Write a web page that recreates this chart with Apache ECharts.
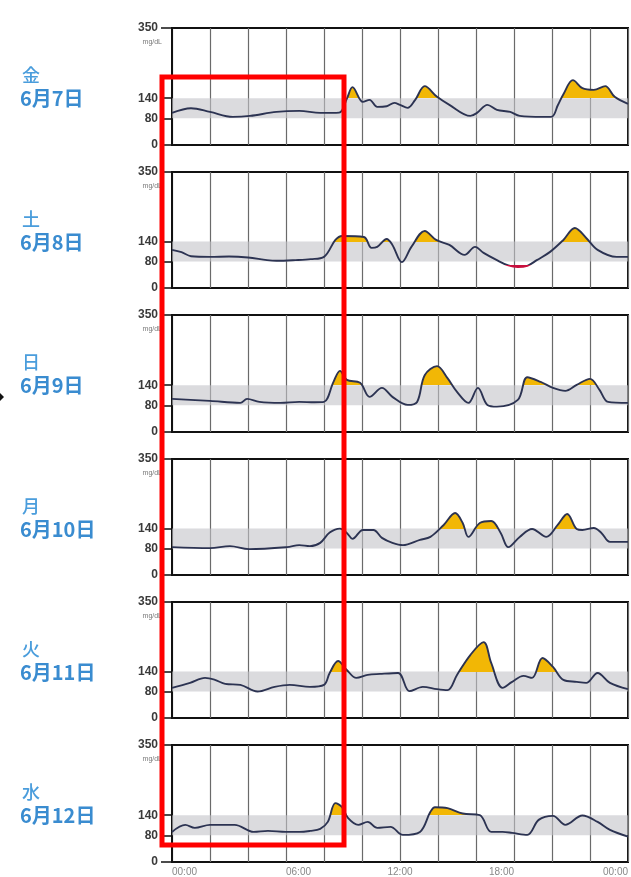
<!DOCTYPE html>
<html><head><meta charset="utf-8">
<script src="https://cdn.jsdelivr.net/npm/echarts@6/dist/echarts.min.js"></script>
<style>html,body{margin:0;padding:0;background:#fff}#c{width:631px;height:877px}</style>
</head><body><div id="c"></div>
<script>
// ---- data ----
const weekdays = ['金','土','日','月','火','水'];
const dates = ['6月7日','6月8日','6月9日','6月10日','6月11日','6月12日'];
const yTickValues = [0, 80, 140, 350];
const xLabelHours = [0, 6, 12, 18, 24];
const targetLow = 80, targetHigh = 140, hypoLimit = 70;

const friT = [0,1,2,3.2,4.1,5.5,6.7,7.8,8.8,9.2,9.5,10.05,10.4,10.8,11.3,11.7,12.0,12.4,12.8,13.3,13.95,14.6,15.7,16.05,16.6,17.1,17.8,18.3,19.5,20.0,20.3,20.6,21.1,21.6,22.2,22.8,23.3,24];
const friV = [96,110,99,84,87,99,102,96,97,138,173,129,135,114,116,126,120,111,135,176,144,120,87,96,120,105,99,87,84,85,118,152,194,170,165,176,144,123];

const satT = [0,0.5,1,2,3,4,5,5.5,6.5,7.3,8,8.6,8.95,10.1,10.5,10.8,11.3,11.6,12.1,12.6,13.3,13.9,14.6,15.4,15.95,16.4,17.1,17.7,18.2,18.7,19.2,19.9,20.6,21.2,21.8,22.4,23.4,24];
const satV = [115,108,96,94,95,92,84,82,84,87,94,145,157,154,121,124,148,130,78,124,172,145,130,100,124,106,84,68,63,67,84,109,145,181,151,115,94,94];

const sunT = [0,2,3.6,3.95,4.6,5.7,6.7,7.5,8.0,8.5,8.84,9.2,9.9,10.4,11.05,11.6,12.4,12.9,13.3,13.95,14.5,15,15.6,16.1,16.6,17.1,18.2,18.7,19.4,20.05,20.7,21.3,22,22.5,22.95,24];
const sunV = [99,93,87,99,90,87,90,89,90,150,183,156,147,105,132,105,81,90,170,197,161,120,87,132,81,76,96,164,150,132,123,141,159,126,90,87];

const monT = [0,2,3.05,4.05,6.05,6.7,7.26,7.8,8.3,8.84,9.2,9.5,10.05,10.6,11.05,11.6,12.15,13.05,13.6,14.3,14.9,15.3,15.6,16.2,16.8,17.3,17.7,18.3,18.95,19.7,20.3,20.8,21.3,21.6,22.2,22.6,23.05,24];
const monV = [84,81,87,78,84,90,87,97,128,140,127,109,136,136,112,97,90,106,115,151,187,157,115,157,163,127,84,115,139,115,151,184,139,136,142,127,100,100];

const tueT = [0,0.95,1.74,2.26,2.8,3.6,4.5,5.4,6.2,7.26,8.0,8.3,8.74,9.2,9.7,10.3,10.95,11.9,12.5,13.2,13.95,14.5,15,15.7,16.4,16.8,17.4,17.9,18.5,18.95,19.5,20.05,20.6,21.3,21.8,22.4,23.05,24];
const tueV = [91,106,121,115,103,100,80,94,100,94,100,136,172,145,121,130,133,136,81,94,87,84,130,190,229,166,91,109,127,121,181,154,115,109,106,136,106,87];

const wedT = [0,0.7,1.2,2,3.3,4.3,5.05,6,6.7,7.26,7.8,8.2,8.6,8.95,9.26,9.8,10.3,10.8,11.5,12.15,13.05,13.6,13.84,14.5,15.3,16.2,16.8,17.4,17.9,18.7,19.3,20.05,20.7,21.6,22.4,23.05,24];
const wedV = [90,111,102,111,111,90,93,90,90,93,99,120,176,164,132,111,120,102,105,81,90,150,164,161,145,140,90,90,87,81,126,138,111,139,120,96,76];

const dayTimes = [friT, satT, sunT, monT, tueT, wedT];
const dayValues = [friV, satV, sunV, monV, tueV, wedV];

// ---- layout ----
const tops = [28, 172, 315, 459, 602, 745];
const heights = [117, 116, 117, 116, 116, 117];
const L = 172, W = 456;

const fmt = h => (h === 24 ? '00:00' : String(h).padStart(2, '0') + ':00');

const chart = echarts.init(document.getElementById('c'));
const grid = [], xAxis = [], yAxis = [], series = [], graphic = [];
const lineIdx = [], yellowIdx = [], redIdx = [];

for (let i = 0; i < 6; i++) {
  grid.push({left: L, top: tops[i], width: W, height: heights[i], show: true,
    borderColor: '#111', borderWidth: 2, backgroundColor: 'rgba(0,0,0,0)'});
  const last = i === 5;
  xAxis.push({type: 'value', gridIndex: i, position: 'bottom', min: 0, max: 24, interval: 2,
    axisLine: {show: false}, axisTick: {show: false},
    axisLabel: {show: last, customValues: [xLabelHours[0], xLabelHours[1]], align: 'left',
      formatter: fmt, fontSize: 10, color: '#888', margin: 5, fontFamily: 'Liberation Sans'},
    splitLine: {show: true, lineStyle: {color: '#6a6a6a', width: 1.2}}});
  yAxis.push({type: 'value', gridIndex: i, min: 0, max: 350,
    axisLine: {show: true, lineStyle: {color: '#111', width: 2}},
    axisTick: {show: true, inside: false, length: 11, customValues: yTickValues, lineStyle: {color: '#111', width: 1.5}},
    axisLabel: {customValues: yTickValues, margin: 14, fontSize: 12, fontWeight: 'bold', color: '#3a3a3a', fontFamily: 'Liberation Sans'},
    splitLine: {show: false}});

  const data = dayTimes[i].map((t, k) => [t, dayValues[i][k]]);
  yellowIdx.push(series.length);
  series.push({type: 'line', xAxisIndex: i, yAxisIndex: i, data, smooth: 0.35, symbol: 'none',
    lineStyle: {width: 0, opacity: 0}, areaStyle: {opacity: 1, origin: 'start'}, z: 3, silent: true});
  redIdx.push(series.length);
  series.push({type: 'line', xAxisIndex: i, yAxisIndex: i, data, smooth: 0.35, symbol: 'none',
    lineStyle: {width: 0, opacity: 0}, areaStyle: {opacity: 1, origin: 'end'}, z: 3, silent: true});
  lineIdx.push(series.length);
  series.push({type: 'line', xAxisIndex: i, yAxisIndex: i, data, smooth: 0.35, symbol: 'none',
    lineStyle: {width: 1.9}, z: 5, silent: true,
    markArea: {silent: true, itemStyle: {color: 'rgba(195,195,200,0.6)'},
      data: [[{yAxis: targetLow}, {yAxis: targetHigh}]]}});

  graphic.push({type: 'text', x: 22, y: tops[i] + 47, z: 50,
    style: {text: weekdays[i], font: '500 18px "Noto Sans CJK JP"', fill: '#4a9ddc', align: 'left', verticalAlign: 'middle'}});
  graphic.push({type: 'text', x: 20, y: tops[i] + 70, z: 50,
    style: {text: dates[i], font: 'bold 20px "Noto Sans CJK JP"', fill: '#3a8cd0', align: 'left', verticalAlign: 'middle'}});
  graphic.push({type: 'text', x: 162, y: tops[i] + 14, z: 50,
    style: {text: 'mg/dL', font: '7px "Liberation Sans"', fill: '#777', align: 'right', verticalAlign: 'middle'}});
}

// extra label axes on the last panel (center / right aligned labels)
xAxis.push({type: 'value', gridIndex: 5, position: 'bottom', min: 0, max: 24, axisLine: {show: false}, axisTick: {show: false}, splitLine: {show: false},
  axisLabel: {customValues: [xLabelHours[2]], align: 'center', formatter: fmt, fontSize: 10, color: '#888', margin: 5, fontFamily: 'Liberation Sans'}});
xAxis.push({type: 'value', gridIndex: 5, position: 'bottom', min: 0, max: 24, axisLine: {show: false}, axisTick: {show: false}, splitLine: {show: false},
  axisLabel: {customValues: [xLabelHours[3], xLabelHours[4]], align: 'right', formatter: fmt, fontSize: 10, color: '#888', margin: 5, fontFamily: 'Liberation Sans'}});

graphic.push({type: 'rect', shape: {x: 162, y: 77, width: 182, height: 768}, z: 100,
  style: {fill: 'none', stroke: '#ff0000', lineWidth: 5}});
graphic.push({type: 'polygon', shape: {points: [[0, 393], [4, 397], [0, 401]]}, z: 100,
  style: {fill: '#111'}});

chart.setOption({
  animation: false,
  grid, xAxis, yAxis, series, graphic,
  visualMap: [
    {type: 'piecewise', show: false, dimension: 1, seriesIndex: yellowIdx,
      pieces: [{gt: targetHigh, lte: 1000, color: '#f2b705'}, {gte: -1000, lte: targetHigh, color: 'rgba(255,255,255,0)'}]},
    {type: 'piecewise', show: false, dimension: 1, seriesIndex: redIdx,
      pieces: [{gte: -1000, lt: hypoLimit, color: '#c8103e'}, {gte: hypoLimit, lte: 1000, color: 'rgba(255,255,255,0)'}]},
    {type: 'piecewise', show: false, dimension: 1, seriesIndex: lineIdx,
      pieces: [{gte: -1000, lt: hypoLimit, color: '#c8103e'}, {gte: hypoLimit, lte: 1000, color: '#2c3352'}]}
  ]
});
</script></body></html>
